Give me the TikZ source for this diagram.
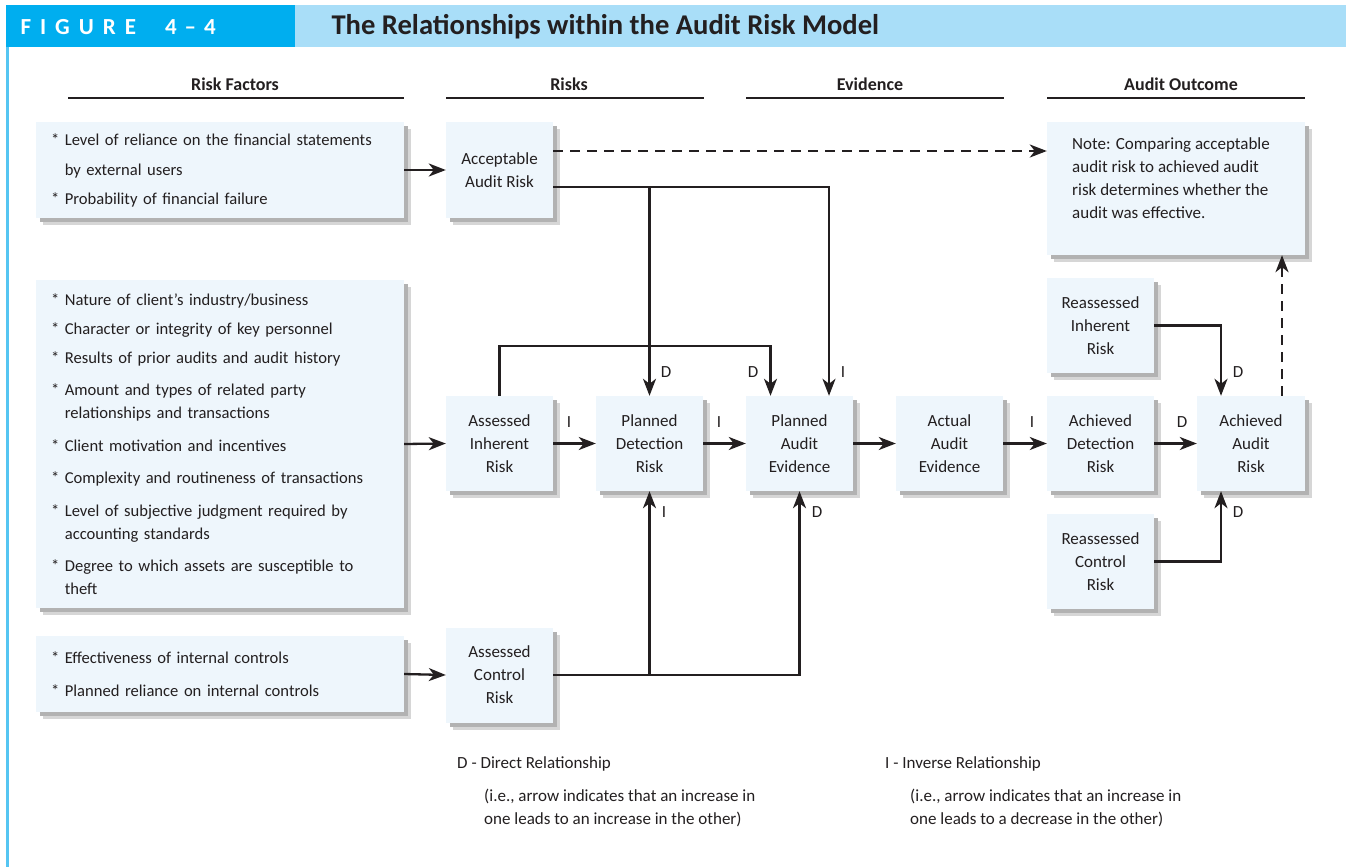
\documentclass[tikz,border=0pt]{standalone}
\usepackage{fontspec}
\setmainfont{Carlito}
\usetikzlibrary{arrows.meta,shadows}

\definecolor{ink}{HTML}{231F20}
\definecolor{banddark}{HTML}{00AEEF}
\definecolor{bandlight}{HTML}{A9DEF8}
\definecolor{boxfill}{HTML}{EEF6FC}
\definecolor{framecol}{HTML}{55C5F2}

\newcommand{\bodyfont}{\fontsize{17}{23}\selectfont}
\newcommand{\listfont}{\fontsize{16.6}{23}\selectfont}
\newcommand{\hang}{\phantom{* }}

\begin{document}
\begin{tikzpicture}[x=1pt,y=-1pt,
  every node/.style={text=ink, font=\bodyfont},
  softshadow/.style={
    drop shadow={shadow xshift=7pt, shadow yshift=-7pt, fill=black!16, opacity=1},
    drop shadow={shadow xshift=4pt, shadow yshift=-4pt, fill=black!30, opacity=1}},
  riskbox/.style={softshadow, fill=boxfill, inner sep=0pt, align=center,
    minimum width=107pt, minimum height=95pt},
  factorbox/.style={softshadow, fill=boxfill, inner xsep=15pt, inner ysep=0pt,
    align=left, text width=338pt, font=\listfont},
  colhead/.style={font=\fontsize{18}{21}\selectfont\bfseries},
  rule/.style={line width=2.4pt, ink},
  arr/.style={line width=2.3pt, draw=ink, -{Stealth[length=17pt,width=13pt,inset=5pt]}},
  darr/.style={arr, dash pattern=on 10pt off 7pt},
  rel/.style={inner sep=0pt},
]
\useasboundingbox (0,0) rectangle (1346,867);
\fill[white] (0,0) rectangle (1346,867);

% title band and left frame line
\fill[bandlight] (295,5) rectangle (1346,47);
\fill[banddark] (6,5) rectangle (295,47);
\fill[framecol] (6,47) rectangle (8.5,867);
\node[anchor=west, text=white, font=\fontsize{23}{26}\selectfont\bfseries] (fig) at (17,27)
  {F\hspace{9pt}I\hspace{9pt}G\hspace{9pt}U\hspace{9pt}R\hspace{9pt}E\hspace{29pt}4\hspace{8pt}–\hspace{8pt}4};
\node[anchor=west, font=\fontsize{28.6}{31}\selectfont\bfseries] (title) at (328,27)
  {The Relationships within the Audit Risk Model};

% column headings
\node[colhead] (hfac) at (235,84) {Risk Factors};
\node[colhead] (hrisk) at (569,84) {Risks};
\node[colhead] (hev) at (870,84) {Evidence};
\node[colhead] (hout) at (1181,84) {Audit Outcome};
\draw[rule] (68,98) -- (404,98);
\draw[rule] (446,98) -- (704,98);
\draw[rule] (746,98) -- (1004,98);
\draw[rule] (1047,98) -- (1305,98);

% risk factor lists
\node[factorbox, minimum height=96pt] (rf1) at (220,170)
  {* Level of reliance on the financial statements\\[7pt]
   \hang by external users\\[6pt]
   * Probability of financial failure};
\node[factorbox, minimum height=328pt] (rf2) at (220,444)
  {* Nature of client’s industry/business\\[6pt]
   * Character or integrity of key personnel\\[6pt]
   * Results of prior audits and audit history\\[9pt]
   * Amount and types of related party\\
   \hang relationships and transactions\\[10pt]
   * Client motivation and incentives\\[9pt]
   * Complexity and routineness of transactions\\[10pt]
   * Level of subjective judgment required by\\
   \hang accounting standards\\[9pt]
   * Degree to which assets are susceptible to\\
   \hang theft};
\node[factorbox, minimum height=76pt] (rf3) at (220,674)
  {* Effectiveness of internal controls\\[10pt]
   * Planned reliance on internal controls};

% risks, evidence and outcome boxes
\node[riskbox, minimum height=96pt] (acc) at (499.5,170) {Acceptable\\Audit Risk};
\node[riskbox] (air) at (499.5,443.5) {Assessed\\Inherent\\Risk};
\node[riskbox] (acr) at (499.5,675) {Assessed\\Control\\Risk};
\node[riskbox] (pdr) at (649.5,443.5) {Planned\\Detection\\Risk};
\node[riskbox] (pae) at (799.5,443.5) {Planned\\Audit\\Evidence};
\node[riskbox] (ae) at (949.5,443.5) {Actual\\Audit\\Evidence};
\node[riskbox] (adr) at (1100.5,443.5) {Achieved\\Detection\\Risk};
\node[riskbox, minimum width=108pt] (aar) at (1251,443.5) {Achieved\\Audit\\Risk};
\node[riskbox] (rir) at (1100.5,325.5) {Reassessed\\Inherent\\Risk};
\node[riskbox] (rcr) at (1100.5,561.5) {Reassessed\\Control\\Risk};
\node[riskbox, minimum width=258pt, minimum height=133pt] (note) at (1176,188.5) {};
\node[anchor=north west, inner sep=0pt, align=left] (notetext) at (1072,137)
  {Note: Comparing acceptable\\audit risk to achieved audit\\risk determines whether the\\audit was effective.};

% factor inputs
\draw[arr] (rf1.east) -- (acc.west);
\draw[arr] (rf2.east) -- (air.west);
\draw[arr] (rf3.east) -- (acr.west);

% planning links
\draw[darr] ([yshift=19pt]acc.east) -- ([yshift=19pt]acc.east -| note.west);
\draw[arr] ([yshift=-17pt]acc.east) -| (pdr.north);
\draw[arr] ([yshift=-17pt]acc.east) -| ([xshift=29.5pt]pae.north);
\draw[arr] (air.north) -- ++(0,-50) -| ([xshift=-29pt]pae.north);
\draw[arr] (air.east) -- (pdr.west);
\draw[arr] (pdr.east) -- (pae.west);
\draw[arr] (pae.east) -- (ae.west);
\draw[arr] (ae.east) -- (adr.west);
\draw[arr] (adr.east) -- (aar.west);
\draw[arr] (acr.east) -| (pdr.south);
\draw[arr] (acr.east) -| (pae.south);

% outcome links
\draw[arr] (rir.east) -| ([xshift=-30pt]aar.north);
\draw[arr] (rcr.east) -| ([xshift=-30pt]aar.south);
\draw[darr] ([xshift=31pt]aar.north) -- ([xshift=31pt]aar.north |- note.south);

% relationship letters
\node[rel] (r1) at (666,372) {D};
\node[rel] (r2) at (753,372) {D};
\node[rel] (r3) at (843,372) {I};
\node[rel] (r4) at (569,422) {I};
\node[rel] (r5) at (719,422) {I};
\node[rel] (r6) at (1032,422) {I};
\node[rel] (r7) at (1182,422) {D};
\node[rel] (r8) at (1238,372) {D};
\node[rel] (r9) at (1238,512) {D};
\node[rel] (r10) at (664,512) {I};
\node[rel] (r11) at (817,512) {D};

% key
\node[anchor=west, inner sep=0pt] (keyd) at (457,764) {D - Direct Relationship};
\node[anchor=west, inner sep=0pt, align=left] (keydx) at (484,807.5)
  {(i.e., arrow indicates that an increase in\\one leads to an increase in the other)};
\node[anchor=west, inner sep=0pt] (keyi) at (885,764) {I - Inverse Relationship};
\node[anchor=west, inner sep=0pt, align=left] (keyix) at (910,807.5)
  {(i.e., arrow indicates that an increase in\\one leads to a decrease in the other)};
\end{tikzpicture}
\end{document}
